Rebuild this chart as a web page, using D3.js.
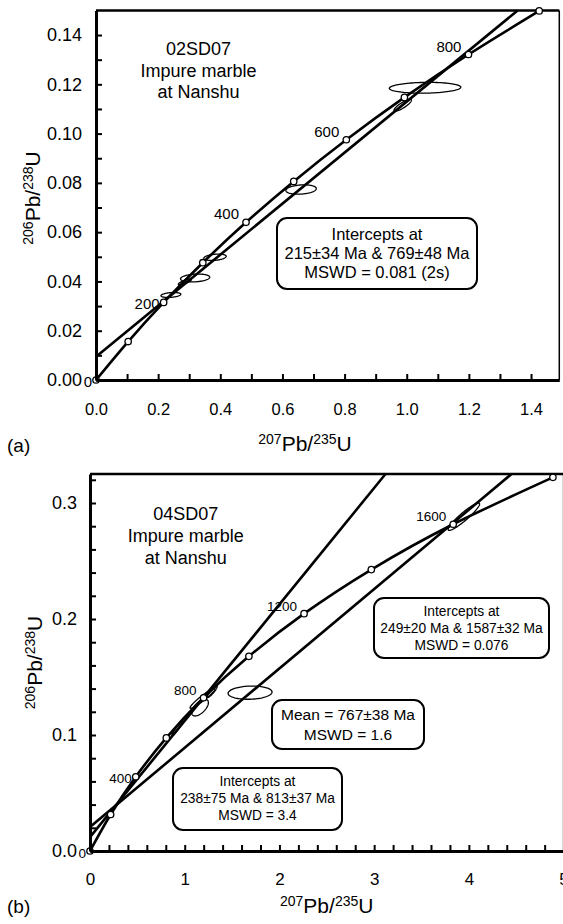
<!DOCTYPE html>
<meta charset="utf-8">
<style>
  body { margin: 0; background: #fff; }
  svg { display: block; }
  text { font-family: "Liberation Sans", Arial, sans-serif; fill: #000; }
  .axis .domain { stroke: #000; stroke-width: 3; }
  .axis .tick line { stroke: #000; stroke-width: 2; }
  .axis text { font-family: "Liberation Sans", Arial, sans-serif; }
</style>
<svg width="563" height="924"></svg>
<script src="https://d3js.org/d3.v7.min.js"></script>
<script>

// ---------- panel (a) : 02SD07 ----------
var agesA   = [0, 100, 200, 300, 400, 500, 600, 700, 800, 900];
var concXA  = [0, 0.1035, 0.2177, 0.3437, 0.4828, 0.6363, 0.8056, 0.9925, 1.1987, 1.4263];
var concYA  = [0, 0.0156, 0.0315, 0.0476, 0.0640, 0.0806, 0.0975, 0.1147, 0.1321, 0.1498];
var labelAgesA = [0, 200, 400, 600, 800];
var discordiaA = [
  [[0, 0.0094], [1.357, 0.15]]
];
// x, y, half extent x, half extent y, rho
var ellipsesA = [
  [1.059, 0.1186, 0.115, 0.0022, 0.1],
  [0.987, 0.1115, 0.028, 0.0024, 0.85],
  [0.660, 0.0773, 0.049, 0.0019, 0.2],
  [0.383, 0.0498, 0.036, 0.0013, 0.3],
  [0.319, 0.0414, 0.047, 0.0016, 0.2],
  [0.286, 0.0398, 0.021, 0.0012, 0.8],
  [0.241, 0.0345, 0.032, 0.0010, 0.3]
];
var xMajorA = [0, 0.2, 0.4, 0.6, 0.8, 1.0, 1.2, 1.4];
var xMinorA = [0.1, 0.3, 0.5, 0.7, 0.9, 1.1, 1.3];
var xLabelsA = ["0.0", "0.2", "0.4", "0.6", "0.8", "1.0", "1.2", "1.4"];
var yMajorA = [0, 0.02, 0.04, 0.06, 0.08, 0.10, 0.12, 0.14];
var yMinorA = [0.01, 0.03, 0.05, 0.07, 0.09, 0.11, 0.13];
var yLabelsA = ["0.00", "0.02", "0.04", "0.06", "0.08", "0.10", "0.12", "0.14"];

// ---------- panel (b) : 04SD07 ----------
var agesB   = [0, 200, 400, 600, 800, 1000, 1200, 1400, 1600, 1800];
var concXB  = [0, 0.2177, 0.4828, 0.8056, 1.1987, 1.6774, 2.2601, 2.9700, 3.8345, 4.8872];
var concYB  = [0, 0.0315, 0.0640, 0.0975, 0.1321, 0.1678, 0.2046, 0.2426, 0.2817, 0.3221];
var labelAgesB = [0, 400, 800, 1200, 1600];
var discordiaB = [
  [[0, 0.0120], [3.12, 0.325]],
  [[0, 0.0206], [4.45, 0.325]]
];
var ellipsesB = [
  [1.690, 0.1365, 0.232, 0.0057, 0.1],
  [3.947, 0.2882, 0.166, 0.0118, 0.93],
  [1.162, 0.1236, 0.088, 0.0072, 0.6],
  [1.188, 0.1316, 0.132, 0.0086, 0.95],
  [0.922, 0.1058, 0.058, 0.0065, 0.95],
  [1.290, 0.1373, 0.053, 0.0050, 0.9]
];
var xMajorB = [0, 1, 2, 3, 4, 5];
var xMinorB = [0.2, 0.4, 0.6, 0.8, 1.2, 1.4, 1.6, 1.8, 2.2, 2.4, 2.6, 2.8,
               3.2, 3.4, 3.6, 3.8, 4.2, 4.4, 4.6, 4.8];
var xLabelsB = ["0", "1", "2", "3", "4", "5"];
var yMajorB = [0, 0.1, 0.2, 0.3];
var yMinorB = [0.02, 0.04, 0.06, 0.08, 0.12, 0.14, 0.16, 0.18, 0.22, 0.24, 0.26, 0.28, 0.32];
var yLabelsB = ["0.0", "0.1", "0.2", "0.3"];

var svg = d3.select("svg");

function ellipsePoints(e) {
  var pts = [];
  var k = Math.sqrt(1 - e[4] * e[4]);
  for (var i = 0; i < 96; i++) {
    var t = i / 96 * 2 * Math.PI;
    pts.push([e[0] + e[2] * Math.cos(t), e[1] + e[3] * (e[4] * Math.cos(t) + k * Math.sin(t))]);
  }
  return pts;
}

function drawPanel(p) {
  var g = svg.append("g");
  var x = d3.scaleLinear().domain(p.xDomain).range([p.left, p.right]);
  var y = d3.scaleLinear().domain(p.yDomain).range([p.bottom, p.top]);
  var line = d3.line().x(function(d) { return x(d[0]); }).y(function(d) { return y(d[1]); });

  // frame
  g.append("line").attr("x1", p.left).attr("x2", p.right).attr("y1", p.top).attr("y2", p.top)
    .attr("stroke", "#000").attr("stroke-width", 2.5);
  g.append("line").attr("x1", p.right).attr("x2", p.right).attr("y1", p.top).attr("y2", p.bottom)
    .attr("stroke", "#000").attr("stroke-width", 1.5);

  // error ellipses
  g.selectAll(".ell").data(p.ellipses).enter().append("path")
    .attr("d", function(e) { return line.curve(d3.curveLinearClosed)(ellipsePoints(e)); })
    .attr("fill", "none").attr("stroke", "#000").attr("stroke-width", 1.3);
  line.curve(d3.curveLinear);

  // discordia lines
  g.selectAll(".disc").data(p.discordia).enter().append("path")
    .attr("d", line).attr("fill", "none").attr("stroke", "#000").attr("stroke-width", 2.6);

  // concordia
  var conc = p.ages.map(function(a, i) { return [p.concX[i], p.concY[i], a]; });
  g.append("path").datum(conc)
    .attr("d", d3.line().x(function(d) { return x(d[0]); }).y(function(d) { return y(d[1]); })
      .curve(d3.curveNatural))
    .attr("fill", "none").attr("stroke", "#000").attr("stroke-width", 2.6);

  g.selectAll(".mk").data(conc).enter().append("circle")
    .attr("cx", function(d) { return x(d[0]); }).attr("cy", function(d) { return y(d[1]); })
    .attr("r", 3.2).attr("fill", "#fff").attr("stroke", "#000").attr("stroke-width", 1.3);

  g.selectAll(".age").data(conc.filter(function(d) { return p.labelAges.indexOf(d[2]) >= 0; }))
    .enter().append("text")
    .attr("x", function(d) { return x(d[0]) + (p.sideAges.indexOf(d[2]) >= 0 ? -4 : -7); })
    .attr("y", function(d) { return y(d[1]) + (p.sideAges.indexOf(d[2]) >= 0 ? 6.5 : -3); })
    .attr("text-anchor", "end").attr("font-size", p.ageFont)
    .text(function(d) { return d[2]; });

  // axes
  var xa = g.append("g").attr("class", "axis")
    .attr("transform", "translate(0," + p.bottom + ")")
    .call(d3.axisBottom(x).tickValues(p.xMajor.concat(p.xMinor))
      .tickFormat(function(d) { var i = p.xMajor.indexOf(d); return i >= 0 ? p.xLabels[i] : ""; })
      .tickSizeInner(-6).tickSizeOuter(0).tickPadding(p.xPad));
  xa.selectAll("text").attr("font-size", p.xTickFont).attr("font-family", null);
  xa.attr("font-family", null);

  var ya = g.append("g").attr("class", "axis")
    .attr("transform", "translate(" + p.left + ",0)")
    .call(d3.axisLeft(y).tickValues(p.yMajor.concat(p.yMinor))
      .tickFormat(function(d) { var i = p.yMajor.indexOf(d); return i >= 0 ? p.yLabels[i] : ""; })
      .tickSizeInner(-6).tickSizeOuter(0).tickPadding(p.yPad));
  ya.selectAll("text").attr("font-size", p.yTickFont).attr("font-family", null);
  ya.attr("font-family", null);

  // axis titles
  var xt = g.append("text").attr("x", p.xTitle[0]).attr("y", p.xTitle[1]).attr("text-anchor", "middle");
  xt.append("tspan").attr("font-size", 14).attr("dy", -7).text("207");
  xt.append("tspan").attr("font-size", 21).attr("dy", 7).text("Pb/");
  xt.append("tspan").attr("font-size", 14).attr("dy", -7).text("235");
  xt.append("tspan").attr("font-size", 21).attr("dy", 7).text("U");

  var yt = g.append("text").attr("text-anchor", "middle")
    .attr("transform", "translate(" + p.yTitle[0] + "," + p.yTitle[1] + ") rotate(-90)");
  yt.append("tspan").attr("font-size", 14).attr("dy", -7).text("206");
  yt.append("tspan").attr("font-size", 21).attr("dy", 7).text("Pb/");
  yt.append("tspan").attr("font-size", 14).attr("dy", -7).text("238");
  yt.append("tspan").attr("font-size", 21).attr("dy", 7).text("U");

  g.append("text").attr("x", p.panel[1]).attr("y", p.panel[2]).attr("font-size", 19).text(p.panel[0]);

  // sample name
  g.selectAll(".nm").data(p.name).enter().append("text")
    .attr("x", p.nameX).attr("y", function(d, i) { return p.nameY[i]; })
    .attr("text-anchor", "middle").attr("font-size", 18).text(function(d) { return d; });

  // result boxes
  p.boxes.forEach(function(b) {
    g.append("rect").attr("x", b.x).attr("y", b.y).attr("width", b.w).attr("height", b.h)
      .attr("rx", 10).attr("fill", "#fff").attr("stroke", "#000").attr("stroke-width", 2);
    g.selectAll(null).data(b.lines).enter().append("text")
      .attr("x", b.x + b.w / 2).attr("y", function(d, i) { return b.y + b.first + i * b.step; })
      .attr("text-anchor", "middle").attr("font-size", b.font).text(function(d) { return d; });
  });
}

drawPanel({
  xDomain: [0, 1.491], yDomain: [0, 0.15],
  left: 96, right: 559.3, top: 10.4, bottom: 380,
  ages: agesA, concX: concXA, concY: concYA, labelAges: labelAgesA, sideAges: [0, 200],
  ageFont: 15, discordia: discordiaA, ellipses: ellipsesA,
  xMajor: xMajorA, xMinor: xMinorA, xLabels: xLabelsA, xPad: 23, xTickFont: 16.5,
  yMajor: yMajorA, yMinor: yMinorA, yLabels: yLabelsA, yPad: 14, yTickFont: 18,
  xTitle: [305, 451], yTitle: [40, 198], panel: ["(a)", 7, 452],
  name: ["02SD07", "Impure marble", "at Nanshu"], nameX: 198.5, nameY: [55, 76.5, 98],
  boxes: [
    {x: 277, y: 218, w: 200, h: 71, first: 22, step: 19, font: 16.5,
     lines: ["Intercepts at", "215±34 Ma & 769±48 Ma", "MSWD = 0.081 (2s)"]}
  ]
});

drawPanel({
  xDomain: [0, 5], yDomain: [0, 0.325],
  left: 90, right: 563.6, top: 474, bottom: 851,
  ages: agesB, concX: concXB, concY: concYB, labelAges: labelAgesB, sideAges: [0, 400],
  ageFont: 13.5, discordia: discordiaB, ellipses: ellipsesB,
  xMajor: xMajorB, xMinor: xMinorB, xLabels: xLabelsB, xPad: 22, xTickFont: 17,
  yMajor: yMajorB, yMinor: yMinorB, yLabels: yLabelsB, yPad: 13, yTickFont: 18,
  xTitle: [326.7, 913], yTitle: [42, 662.5], panel: ["(b)", 7, 913],
  name: ["04SD07", "Impure marble", "at Nanshu"], nameX: 185.8, nameY: [520, 542, 563.5],
  boxes: [
    {x: 374, y: 598, w: 175, h: 60, first: 18, step: 17, font: 13.8,
     lines: ["Intercepts at", "249±20 Ma & 1587±32 Ma", "MSWD = 0.076"]},
    {x: 272, y: 700, w: 152, h: 49, first: 19.5, step: 20, font: 15.5,
     lines: ["Mean = 767±38 Ma", "MSWD = 1.6"]},
    {x: 173, y: 768, w: 169, h: 62, first: 18, step: 17, font: 13.8,
     lines: ["Intercepts at", "238±75 Ma & 813±37 Ma", "MSWD = 3.4"]}
  ]
});

</script>
